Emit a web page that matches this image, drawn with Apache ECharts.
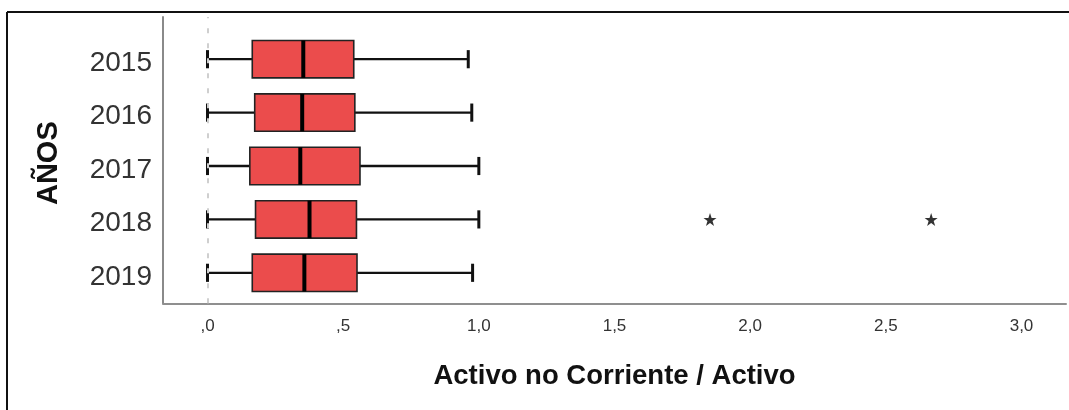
<!DOCTYPE html>
<html>
<head>
<meta charset="utf-8">
<script src="https://cdn.jsdelivr.net/npm/echarts@6/dist/echarts.min.js"></script>
<style>
  html, body { margin: 0; padding: 0; background: #fff; }
  #chart { width: 1069px; height: 410px; }
</style>
</head>
<body>
<div id="chart"></div>
<script>
// Years on the category axis
const years = ['2015', '2016', '2017', '2018', '2019'];
// Five-number summaries of "Activo no Corriente / Activo" per year
const whiskerLow  = [0.000, 0.000, 0.000, 0.000, 0.000];
const quartile1   = [0.165, 0.174, 0.156, 0.177, 0.165];
const medians     = [0.353, 0.349, 0.342, 0.376, 0.357];
const quartile3   = [0.539, 0.543, 0.562, 0.549, 0.551];
const whiskerHigh = [0.961, 0.974, 1.000, 1.000, 0.977];
// Extreme values
const outlierYears  = ['2018', '2018'];
const outlierValues = [1.852, 2.667];
// Value-axis labels
const tickValues = [0, 0.5, 1.0, 1.5, 2.0, 2.5, 3.0];

const xMin = -0.164, xMax = 3.164;
const fontMain = '"Liberation Sans", Arial, sans-serif';

const boxData = years.map((y, i) => [i, whiskerLow[i], quartile1[i], medians[i], quartile3[i], whiskerHigh[i]]);
const outlierData = outlierValues.map((v, i) => [v, outlierYears[i]]);

function fmtTick(v) {
  // Spanish decimal comma, leading zero dropped: ,0  ,5  1,0 ...
  let s = v.toFixed(1).replace('.', ',');
  if (s.startsWith('0')) s = s.slice(1);
  return s;
}

function renderBox(params, api) {
  const cat = api.value(0);
  const lo = api.coord([api.value(1), cat]);
  const q1 = api.coord([api.value(2), cat]);
  const md = api.coord([api.value(3), cat]);
  const q3 = api.coord([api.value(4), cat]);
  const hi = api.coord([api.value(5), cat]);
  const band = api.size([0, 1])[1];
  const bh = band * 0.70;
  const ch = band * 0.34;
  const y = md[1];
  const whisk = { stroke: '#111', lineWidth: 2.3 };
  const cap = { stroke: '#111', lineWidth: 3 };
  return {
    type: 'group',
    children: [
      { type: 'line', shape: { x1: lo[0], y1: y, x2: q1[0], y2: y }, style: whisk },
      { type: 'line', shape: { x1: q3[0], y1: y, x2: hi[0], y2: y }, style: whisk },
      { type: 'line', shape: { x1: lo[0], y1: y - ch / 2, x2: lo[0], y2: y + ch / 2 }, style: cap },
      { type: 'line', shape: { x1: hi[0], y1: y - ch / 2, x2: hi[0], y2: y + ch / 2 }, style: cap },
      { type: 'rect', shape: { x: q1[0], y: y - bh / 2, width: q3[0] - q1[0], height: bh },
        style: { fill: '#EB4C4C', stroke: '#222', lineWidth: 1.6 } },
      { type: 'line', shape: { x1: md[0], y1: y - bh / 2, x2: md[0], y2: y + bh / 2 }, style: { stroke: '#000', lineWidth: 4 } }
    ]
  };
}

const starPath = 'path://M50,0 L61.8,35.1 L97.6,35.1 L68.6,56.7 L79.4,90.9 L50,69.8 L20.6,90.9 L31.4,56.7 L2.4,35.1 L38.2,35.1 Z';

const chart = echarts.init(document.getElementById('chart'), null, { renderer: 'canvas' });
chart.setOption({
  backgroundColor: '#fff',
  animation: false,
  grid: [
    { left: 163, right: 3, top: 32.5, height: 267 },
    { left: 163, right: 3, top: 17, height: 286.3 }
  ],
  xAxis: [
    {
      gridIndex: 0, type: 'value', min: xMin, max: xMax,
      show: false
    },
    {
      gridIndex: 1, type: 'value', min: xMin, max: xMax,
      axisLine: { show: true, onZero: false, lineStyle: { color: '#8f8f8f', width: 2 } },
      axisTick: { show: false },
      splitLine: { show: false },
      axisLabel: {
        customValues: tickValues,
        formatter: fmtTick,
        margin: 15,
        fontSize: 17,
        color: '#333',
        fontFamily: fontMain
      },
      name: 'Activo no Corriente / Activo',
      nameLocation: 'middle',
      nameGap: 59,
      nameTextStyle: { fontSize: 27.5, fontWeight: 'bold', color: '#111', fontFamily: fontMain }
    }
  ],
  yAxis: [
    {
      gridIndex: 0, type: 'category', data: years, inverse: true,
      axisLine: { show: false },
      axisTick: { show: false },
      splitLine: { show: false },
      axisLabel: {
        margin: 11,
        formatter: '{yr|{value}}',
        rich: { yr: { fontSize: 28, color: '#333', fontFamily: fontMain, padding: [8, 0, 0, 0] } }
      }
    },
    {
      gridIndex: 1, type: 'value', min: 0, max: 1,
      axisLine: { show: true, onZero: false, lineStyle: { color: '#8a8a8a', width: 2 } },
      axisTick: { show: false },
      axisLabel: { show: false },
      splitLine: { show: false },
      name: 'AÑOS',
      nameLocation: 'middle',
      nameRotate: 90,
      nameGap: 100,
      nameTextStyle: { fontSize: 29, fontWeight: 'bold', color: '#111', fontFamily: fontMain, padding: [0, 6, 0, 0] }
    }
  ],
  graphic: [
    { type: 'line', shape: { x1: 7, y1: 12, x2: 1069, y2: 12 }, style: { stroke: '#111', lineWidth: 2 }, silent: true },
    { type: 'line', shape: { x1: 7, y1: 12, x2: 7, y2: 410 }, style: { stroke: '#111', lineWidth: 2 }, silent: true }
  ],
  series: [
    {
      type: 'line', xAxisIndex: 1, yAxisIndex: 1, data: [], silent: true,
      markLine: {
        silent: true, symbol: 'none', label: { show: false },
        lineStyle: { color: '#cfcfcf', type: [5, 10], width: 2 },
        data: [{ xAxis: 0 }]
      }
    },
    {
      type: 'custom', xAxisIndex: 0, yAxisIndex: 0,
      renderItem: renderBox,
      encode: { x: [1, 2, 3, 4, 5], y: 0 },
      data: boxData, z: 3
    },
    {
      type: 'scatter', xAxisIndex: 0, yAxisIndex: 0,
      symbol: starPath, symbolSize: 13,
      itemStyle: { color: '#000' },
      data: outlierData, z: 4
    }
  ]
});
</script>
</body>
</html>
